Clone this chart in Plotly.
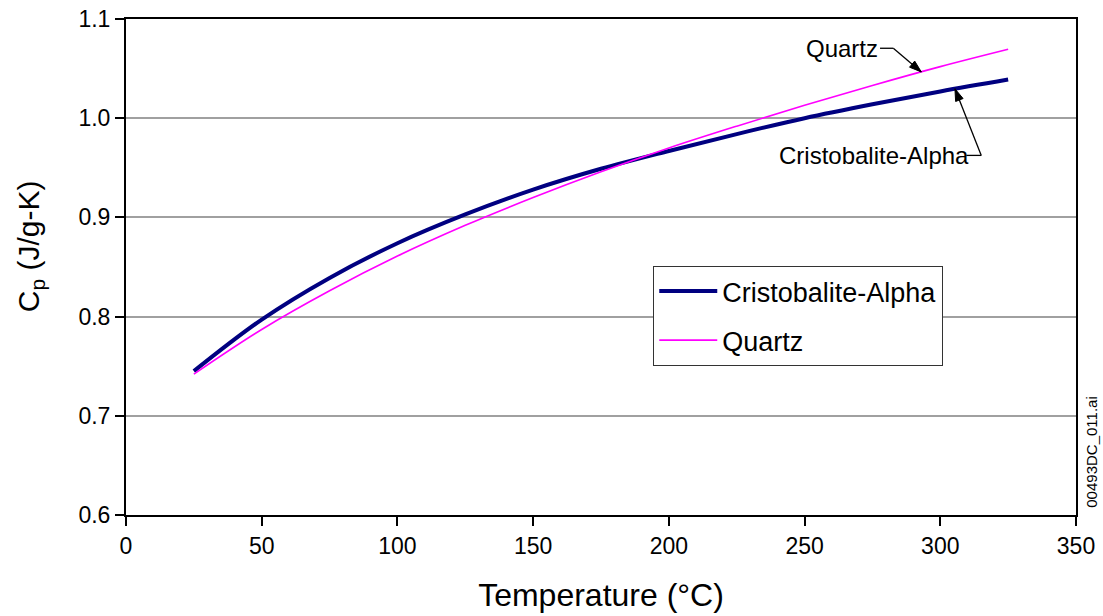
import numpy as np
import plotly.graph_objects as go

temperature_c = [25, 50, 75, 100, 125, 150, 175, 200, 225, 250, 275, 300, 325]
cp_cristobalite = [0.745, 0.797, 0.839, 0.874, 0.903, 0.928, 0.949, 0.967, 0.984, 1.000, 1.014, 1.027, 1.039]
cp_quartz = [0.742, 0.787, 0.826, 0.861, 0.892, 0.920, 0.946, 0.970, 0.992, 1.013, 1.033, 1.052, 1.0695]

x_ticks = [0, 50, 100, 150, 200, 250, 300, 350]
y_ticks = [0.6, 0.7, 0.8, 0.9, 1.0, 1.1]
y_tick_labels = ["0.6", "0.7", "0.8", "0.9", "1.0", "1.1"]

FONT = "Arial, Liberation Sans, Helvetica, sans-serif"

W, H = 1103, 616
ML, MR, MT, MB = 126, 27, 19, 101
XR = (0, 350)
YR = (0.6, 1.1)
sx = (W - ML - MR) / (XR[1] - XR[0])   # px per x unit
sy = (H - MT - MB) / (YR[1] - YR[0])   # px per y unit

fig = go.Figure()
fig.add_trace(go.Scatter(
    x=temperature_c, y=cp_cristobalite, mode="lines", name="Cristobalite-Alpha",
    legendgroup="c", line=dict(color="#000080", width=4, shape="spline"),
))
fig.add_trace(go.Scatter(
    x=temperature_c, y=cp_quartz, mode="lines", name="Quartz",
    legendgroup="q", line=dict(color="#FF00FF", width=1.6, shape="spline"),
))


def callout(label, lx, ly, stub_x0, stub_x1, tip_x, tip_series):
    tip_y = float(np.interp(tip_x, temperature_c, tip_series))
    fig.add_annotation(x=lx, y=ly, xref="x", yref="y", text=label, showarrow=False,
                       font=dict(family=FONT, size=24, color="black"))
    # horizontal stub + diagonal leader
    fig.add_shape(type="line", x0=stub_x0, x1=stub_x1, y0=ly, y1=ly, xref="x", yref="y",
                  line=dict(color="black", width=1.3))
    fig.add_shape(type="line", x0=stub_x1, y0=ly, x1=tip_x, y1=tip_y, xref="x", yref="y",
                  line=dict(color="black", width=1.3))
    # arrowhead (computed in pixel space, converted back to data units)
    dxp = (tip_x - stub_x1) * sx
    dyp = -(tip_y - ly) * sy
    n = np.hypot(dxp, dyp)
    ux, uy = dxp / n, dyp / n
    L, hw = 12.0, 4.0
    bx, by = -ux * L, -uy * L
    p1 = (bx - uy * hw, by + ux * hw)
    p2 = (bx + uy * hw, by - ux * hw)
    pts = [(0, 0), p1, p2]
    path = "M " + " L ".join(f"{tip_x + px / sx},{tip_y - py / sy}" for px, py in pts) + " Z"
    fig.add_shape(type="path", path=path, xref="x", yref="y",
                  fillcolor="black", line=dict(color="black", width=1))


callout("Quartz", 263.9, 1.0705, 277.8, 282.7, 293.0, cp_quartz)
callout("Cristobalite-Alpha", 275.4, 0.9625, 309.6, 315.1, 305.4, cp_cristobalite)

fig.add_annotation(x=1.016, y=0.01, xref="paper", yref="paper", text="00493DC_011.ai",
                   textangle=-90, showarrow=False, xanchor="center", yanchor="bottom",
                   font=dict(family=FONT, size=15, color="black"))

fig.add_annotation(x=-0.101, y=0.542, xref="paper", yref="paper",
                   text="C<sub>p</sub> (J/g-K)", textangle=-90, showarrow=False,
                   xanchor="center", yanchor="middle",
                   font=dict(family=FONT, size=30, color="black"))

fig.update_layout(
    width=W, height=H,
    margin=dict(l=ML, r=MR, t=MT, b=MB, autoexpand=False),
    paper_bgcolor="white", plot_bgcolor="white",
    font=dict(family=FONT, size=23, color="black"),
    showlegend=True,
    legend=dict(x=0.555, y=0.502, xanchor="left", yanchor="top",
                bgcolor="white", bordercolor="#333333", borderwidth=1,
                font=dict(family=FONT, size=27, color="black"),
                itemwidth=58, tracegroupgap=11),
    xaxis=dict(
        range=list(XR), tickvals=x_ticks, ticks="outside", ticklen=9, tickwidth=1.5,
        tickcolor="black", showline=True, linecolor="black", linewidth=2, mirror=True,
        showgrid=False, zeroline=False, automargin=False,
        title=dict(text="Temperature (°C)", font=dict(family=FONT, size=32), standoff=26),
        tickfont=dict(family=FONT, size=23),
    ),
    yaxis=dict(
        range=list(YR), tickvals=y_ticks, ticktext=y_tick_labels, ticks="outside",
        ticklen=9, tickwidth=1.5, tickcolor="black", showline=True, linecolor="black",
        linewidth=2, mirror=True, showgrid=True, gridcolor="#A0A0A0", gridwidth=1.5,
        zeroline=False, automargin=False,
        tickfont=dict(family=FONT, size=23),
    ),
)

fig.write_html("out.html")
